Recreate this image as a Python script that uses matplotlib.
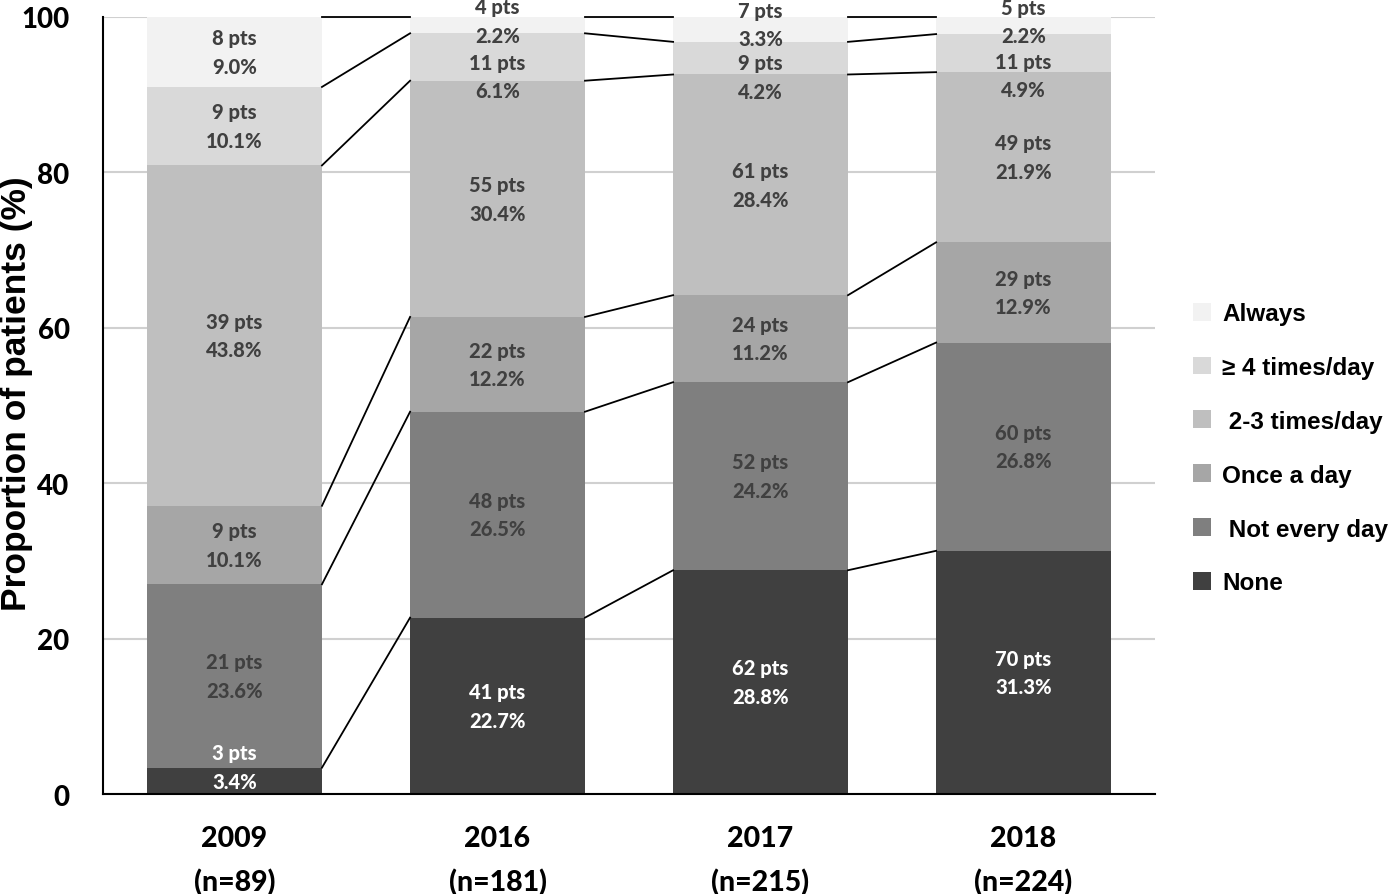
import numpy as np
import matplotlib.pyplot as plt

# Datos
years = ["2009\n(n=89)", "2016\n(n=181)", "2017\n(n=215)", "2018\n(n=224)"]
categorias = ["None", "Not every day", "Once a day", "2-3 times/day", "\u2265 4 times/day", "Always"]
etiquetas_leyenda = ["None", " Not every day", "Once a day", " 2-3 times/day", "\u2265 4 times/day", "Always"]

pct_none = [3.4, 22.7, 28.8, 31.3]
pct_not_every = [23.6, 26.5, 24.2, 26.8]
pct_once = [10.1, 12.2, 11.2, 12.9]
pct_2_3 = [43.8, 30.4, 28.4, 21.9]
pct_4 = [10.1, 6.1, 4.2, 4.9]
pct_always = [9.0, 2.2, 3.3, 2.2]

pts_none = [3, 41, 62, 70]
pts_not_every = [21, 48, 52, 60]
pts_once = [9, 22, 24, 29]
pts_2_3 = [39, 55, 61, 49]
pts_4 = [9, 11, 9, 11]
pts_always = [8, 4, 7, 5]

colores = ["#404040", "#7f7f7f", "#a6a6a6", "#bfbfbf", "#d9d9d9", "#f2f2f2"]
color_texto = ["white", "#404040", "#404040", "#404040", "#404040", "#404040"]

# Corrimiento vertical de las etiquetas chicas (para que no se pisen)
desplaz = np.array([[1.8, 0, 0, 0],
                    [0, 0, 0, 0],
                    [0, 0, 0, 0],
                    [0, 0, 0, 0],
                    [0, -2.5, -2.4, -2.9],
                    [0, 0.5, 0.6, 0.5]])

Pct = np.array([pct_none, pct_not_every, pct_once, pct_2_3, pct_4, pct_always])
Pts = np.array([pts_none, pts_not_every, pts_once, pts_2_3, pts_4, pts_always])

fig = plt.figure(figsize=(13.94, 8.95), dpi=100)
ax = fig.add_axes([0.0739, 0.1117, 0.7547, 0.8682])

x = np.arange(len(years))
ancho = 0.665
base = np.zeros(len(years))
for i in range(len(categorias)):
    ax.bar(x, Pct[i], ancho, bottom=base, color=colores[i], label=etiquetas_leyenda[i], zorder=2)
    for j in range(len(years)):
        ax.text(x[j], base[j] + Pct[i][j] / 2 + desplaz[i][j], f"{Pts[i][j]} pts\n{Pct[i][j]:.1f}%",
                ha="center", va="center", fontsize=14.5, fontweight="black",
                color=color_texto[i], family="Lato", linespacing=1.6, zorder=4, clip_on=False)
    base = base + Pct[i]
    # lineas que unen los limites entre barras
    tope = np.minimum(base, 100)
    for j in range(len(years) - 1):
        ax.plot([x[j] + ancho / 2, x[j + 1] - ancho / 2], [tope[j], tope[j + 1]],
                color="black", lw=1.3, zorder=3, clip_on=False)

ax.set_xlim(-0.5, 3.5)
ax.set_ylim(0, 100)
ax.set_yticks([0, 20, 40, 60, 80, 100])
ax.yaxis.grid(True, color="#d0d0d0", lw=1.5, zorder=0)
ax.set_axisbelow(True)
ax.set_xticks(x)
ax.set_xticklabels(years, fontsize=20.5, fontweight="black", family="Lato", linespacing=1.78)
ax.tick_params(axis="x", length=0, pad=22)
ax.tick_params(axis="y", length=0, pad=24, labelsize=20)
for lab in ax.get_yticklabels():
    lab.set_fontweight("black")
    lab.set_family("Lato")
fig.text(0.012, 0.56, "Proportion of patients (%)", rotation=90, ha="center", va="center",
         fontsize=25.5, fontweight="bold", family="Liberation Sans")
for s in ["top", "right"]:
    ax.spines[s].set_visible(False)
ax.spines["left"].set_linewidth(1.5)
ax.spines["bottom"].set_linewidth(1.5)

h, l = ax.get_legend_handles_labels()
leg = fig.legend(h[::-1], l[::-1], loc="center left", bbox_to_anchor=(0.84, 0.498),
                 frameon=False, handlelength=0.75, handleheight=0.75, labelspacing=1.27,
                 handletextpad=0.45, prop={"family": "Liberation Sans", "weight": "bold", "size": 17.5})

fig.savefig("out.png", dpi=100)
